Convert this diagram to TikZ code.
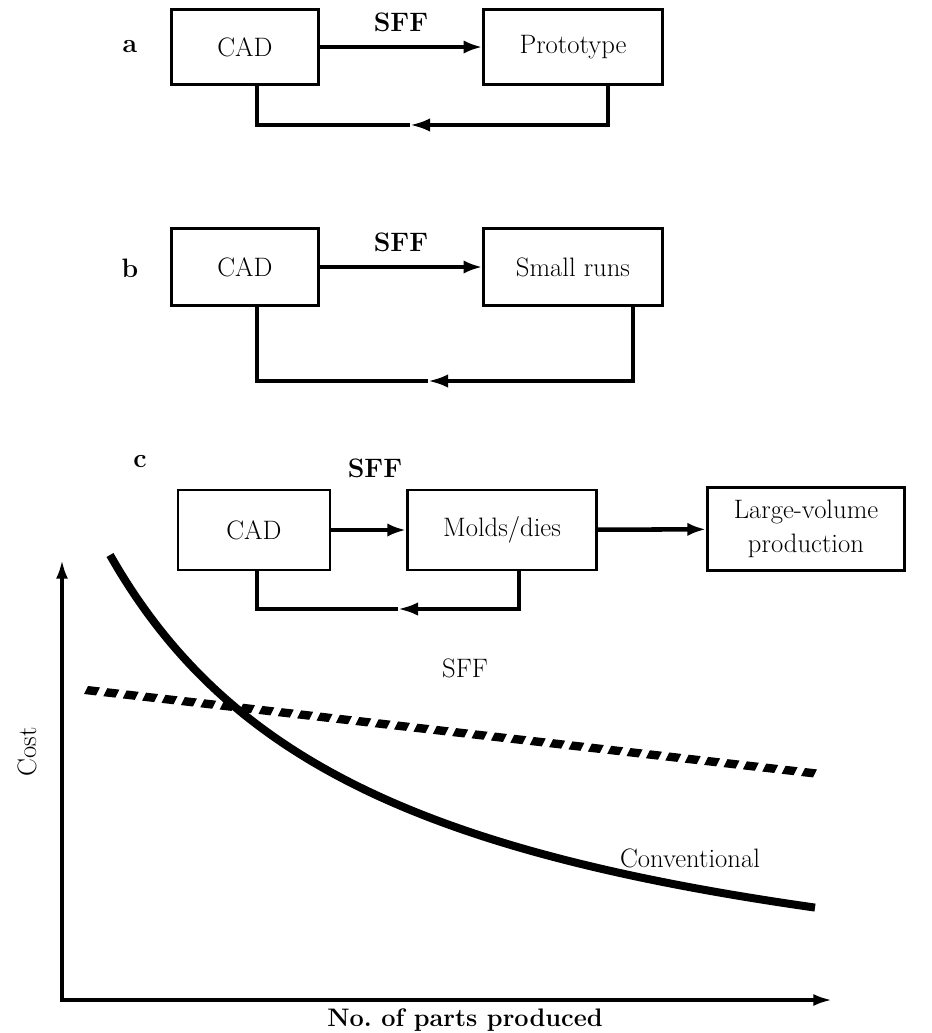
\documentclass[tikz,border=0pt]{standalone}
\usetikzlibrary{arrows.meta,calc}
\begin{document}
\begin{tikzpicture}[x=0.75pt, y=-0.75pt,
  box/.style={draw, line width=2pt, inner sep=0pt, font=\fontsize{20}{25}\selectfont, align=center},
  link/.style={draw, line width=3.4pt, -{Latex[length=14pt,width=10pt]}},
  fb/.style={draw, line width=2.8pt},
  tip/.style={-{Latex[length=15pt,width=10pt]}},
  tag/.style={font=\fontsize{20}{22}\selectfont\bfseries},
  axis/.style={draw, line width=2.6pt},
  lbl/.style={font=\fontsize{20}{22}\selectfont}]
\useasboundingbox (0,0) rectangle (932,1033);

% a
\node[tag] (la) at (130,47) {a};
\node[box, minimum width=110pt, minimum height=56pt] (cada) at (245,47) {CAD};
\node[box, minimum width=134pt, minimum height=56pt] (prota) at (573,47) {Prototype};
\path[link] (cada) -- node[tag, above=6pt] (sffa) {SFF} (prota);
\coordinate (fa1) at (257,125);
\coordinate (fa2) at (608,125);
\coordinate (fam) at (410,125);
\path[fb, tip] (prota.south -| fa2) -- (fa2) -- (fam);
\path[fb] (fam) -- (fa1) -- (cada.south -| fa1);

% b
\node[tag] (lb) at (130,268) {b};
\node[box, minimum width=110pt, minimum height=58pt] (cadb) at (245,267) {CAD};
\node[box, minimum width=134pt, minimum height=58pt] (runb) at (573,267) {Small runs};
\path[link] (cadb) -- node[tag, above=6pt] (sffb) {SFF} (runb);
\coordinate (fb1) at (257,381);
\coordinate (fb2) at (633,381);
\coordinate (fbm) at (428,381);
\path[fb, tip] (runb.south -| fb2) -- (fb2) -- (fbm);
\path[fb] (fbm) -- (fb1) -- (cadb.south -| fb1);

% c
\node[tag] (lc) at (140,462) {c};
\node[box, minimum width=114pt, minimum height=60pt] (cadc) at (254,530) {CAD};
\node[box, minimum width=142pt, minimum height=60pt] (mold) at (502,530) {Molds/dies};
\node[box, minimum width=148pt, minimum height=62pt] (large) at (806,529) {Large-volume\\production};
\path[link] (cadc) -- (mold);
\node[tag] (sffc) at (375,468) {SFF};
\path[link] (mold) -- (large);
\coordinate (fc1) at (257,609);
\coordinate (fc2) at (519,609);
\coordinate (fcm) at (398,609);
\path[fb, tip] (mold.south -| fc2) -- (fc2) -- (fcm);
\path[fb] (fcm) -- (fc1) -- (cadc.south -| fc1);

% graph
\coordinate (orig) at (62,1000);
\coordinate (ytop) at (62,560);
\coordinate (xend) at (832,1000);
\path[axis, {Latex[length=14pt,width=9pt]}-{Latex[length=14pt,width=9pt]}] (ytop) -- (orig) -- (xend);
\node[lbl, rotate=90] (cost) at (27,752) {Cost};
\node[lbl, font=\fontsize{19}{22}\selectfont\bfseries] (parts) at (465,1020) {No.\ of parts produced};

% hatched SFF line
\coordinate (sff0) at (91,690);
\coordinate (sff1) at (808,772);
\foreach \i in {0,...,37}
  \fill ($(sff0)!\i/37!(sff1)$) ++(-7,4) -- ++(12,1.4) -- ++(4,-8) -- ++(-12,-1.4) -- cycle;
\node[lbl] (sffg) at (465,668) {SFF};

\draw[line width=6pt] plot[domain=110:815, samples=80, smooth] (\x, {1047.6-1379.3/((\x+170)/100)});
\node[lbl] (conv) at (690,858) {Conventional};
\end{tikzpicture}
\end{document}
